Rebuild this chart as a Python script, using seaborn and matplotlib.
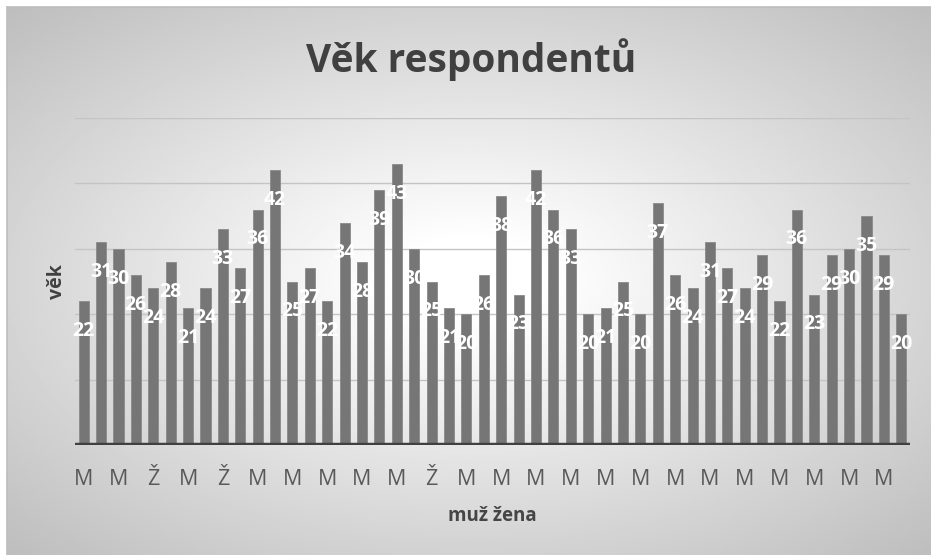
import numpy as np
import matplotlib.pyplot as plt
import seaborn as sns

# ages of the 48 respondents, in survey order
respondent = list(range(1, 49))
ages = [22, 31, 30, 26, 24, 28, 21, 24, 33, 27, 36, 42, 25, 27, 22, 34,
        28, 39, 43, 30, 25, 21, 20, 26, 38, 23, 42, 36, 33, 20, 21, 25,
        20, 37, 26, 24, 31, 27, 24, 29, 22, 36, 23, 29, 30, 35, 29, 20]
# only every second gender label is printed on the axis
gender_labels = ["M", "M", "Ž", "M", "Ž", "M", "M", "M", "M", "M", "Ž", "M",
                 "M", "M", "M", "M", "M", "M", "M", "M", "M", "M", "M", "M"]
grid_values = [10, 20, 30, 40, 50]

sns.set_style("white")
plt.rcParams["font.family"] = ["Open Sans", "DejaVu Sans"]

fig = plt.figure(figsize=(9.31, 5.55), dpi=100)
fig.patch.set_facecolor("white")

# radial grey-to-white backdrop of the chart area
bg = fig.add_axes([7 / 931, 0, 1 - 7 / 931, 1 - 7 / 555])
gx, gy = np.meshgrid(np.linspace(-1, 1, 400), np.linspace(-1, 1, 240))
r = np.sqrt((gx / 1.05) ** 2 + gy ** 2)
shade = 1.0 - 0.25 * np.clip(r - 0.15, 0, None) / 1.2
bg.imshow(shade, cmap="gray", vmin=0, vmax=1, aspect="auto", extent=[0, 1, 0, 1])
bg.set_axis_off()
fig.add_artist(plt.Line2D([7 / 931, 1], [1 - 7 / 555, 1 - 7 / 555], color="#bdbdbd", lw=1.2))
fig.add_artist(plt.Line2D([7 / 931, 7 / 931], [0, 1 - 7 / 555], color="#bdbdbd", lw=1.2))

ax = fig.add_axes([75 / 931, 1 - 445 / 555, 835 / 931, 327 / 555])
ax.patch.set_alpha(0)

for v in grid_values:
    ax.axhline(v, color="#c4c4c4", lw=1, zorder=0)

sns.barplot(x=respondent, y=ages, color="#767676", saturation=1, width=0.58,
            edgecolor="#8a8a8a", linewidth=0.6, ax=ax, zorder=2)

ax.axhline(0, color="#404040", lw=3.2, zorder=3)

# value labels sit just inside the top of each bar
for i, v in enumerate(ages):
    ax.annotate(str(v), (i, v), xytext=(0, -21.5), textcoords="offset points",
                ha="center", va="center", color="white", fontsize=14,
                fontweight="bold", zorder=4)

ax.set_ylim(0, 50)
ax.set_xlim(-0.5, len(ages) - 0.5)
ax.set_yticks([])
ax.set_xticks(range(0, len(ages), 2))
ax.set_xticklabels(gender_labels, fontsize=15.5, color="#595959")
ax.tick_params(axis="x", length=0, pad=17)
sns.despine(ax=ax, left=True, bottom=True)

ax.set_xlabel("muž žena", fontsize=13.5, fontweight="bold", color="#454545", labelpad=12)
ax.set_ylabel("věk", fontsize=14, fontweight="bold", color="#404040", labelpad=6)

fig.text(0.506, 0.892, "Věk respondentů", ha="center", va="center",
         fontsize=28, fontweight="bold", color="#404040")

fig.savefig("out.png", dpi=100)
